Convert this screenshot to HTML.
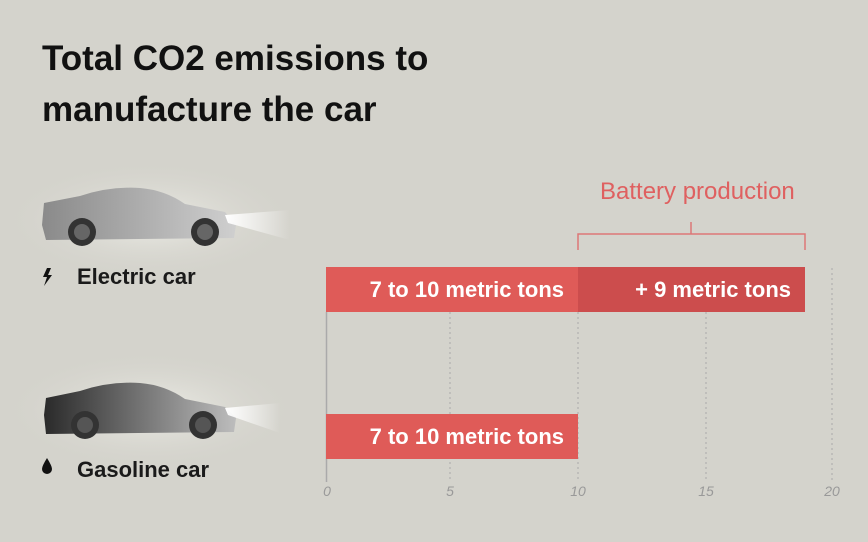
<!DOCTYPE html>
<html><head><meta charset="utf-8"><style>
body{margin:0;width:868px;height:542px;background:#d4d3cc;overflow:hidden;font-family:"Liberation Sans","DejaVu Sans",sans-serif;position:relative}
.t{position:absolute;left:42px;top:33px;font-size:35px;font-weight:bold;color:#111;line-height:51px;letter-spacing:0px}
.l{position:absolute;font-size:22px;font-weight:bold;color:#1a1a1a}
.bar{position:absolute;height:45px;color:#fff;font-size:22px;font-weight:bold;line-height:45px;text-align:right;box-sizing:border-box;padding-right:14px}
.tick{position:absolute;top:483px;font-size:14px;font-style:italic;color:#999;width:30px;text-align:center}
</style></head><body>
<div class="t">Total CO2 emissions to<br>manufacture the car</div>
<svg width="868" height="542" style="position:absolute;left:0;top:0">
<defs>
<radialGradient id="glow" cx="0.5" cy="0.5" r="0.5"><stop offset="0" stop-color="#eeeee8"/><stop offset="1" stop-color="#d4d3cc" stop-opacity="0"/></radialGradient>
<linearGradient id="e" x1="0" x2="1"><stop offset="0" stop-color="#8a8a8a"/><stop offset="1" stop-color="#cfcfcf"/></linearGradient>
<linearGradient id="g" x1="0" x2="1"><stop offset="0" stop-color="#2a2a2a"/><stop offset="1" stop-color="#bdbdbd"/></linearGradient>
<linearGradient id="beam" x1="0" x2="1"><stop offset="0" stop-color="#fff"/><stop offset="1" stop-color="#fff" stop-opacity="0"/></linearGradient>
</defs>
<ellipse cx="150" cy="220" rx="150" ry="60" fill="url(#glow)"/>
<ellipse cx="150" cy="410" rx="150" ry="60" fill="url(#glow)"/>
<g>
<path d="M44 203 L80 196 Q110 186 140 188 Q165 190 185 204 L225 212 L236 225 L234 238 L46 240 L42 225 Z" fill="url(#e)"/>
<polygon points="225,215 290,210 290,240 228,223" fill="url(#beam)"/>
<circle cx="82" cy="232" r="14" fill="#333"/><circle cx="82" cy="232" r="8" fill="#666"/>
<circle cx="205" cy="232" r="14" fill="#333"/><circle cx="205" cy="232" r="8" fill="#666"/>
</g>
<g>
<path d="M46 398 L80 391 Q110 381 140 383 Q165 385 185 399 L225 407 L236 418 L234 432 L46 434 L44 415 Z" fill="url(#g)"/>
<polygon points="225,408 280,403 280,433 228,415" fill="url(#beam)"/>
<circle cx="85" cy="425" r="14" fill="#333"/><circle cx="85" cy="425" r="8" fill="#555"/>
<circle cx="203" cy="425" r="14" fill="#333"/><circle cx="203" cy="425" r="8" fill="#555"/>
</g>
<path d="M47 268 l-4 9 h4 l-3 9 l8 -11 h-4 l3 -7 z" fill="#111"/>
<path d="M47 458 q-5 8 -5 11 a5 5 0 0 0 10 0 q0 -3 -5 -11z" fill="#111"/>
<g stroke="#aaa" stroke-dasharray="2,3" stroke-width="1">
<line x1="450" y1="312" x2="450" y2="482"/><line x1="578" y1="312" x2="578" y2="482"/><line x1="706" y1="312" x2="706" y2="482"/><line x1="832" y1="268" x2="832" y2="482"/>
</g>
<line x1="326.5" y1="312" x2="326.5" y2="482" stroke="#aaa" stroke-width="1.5"/>
<g stroke="#d77" stroke-width="1.5" fill="none"><path d="M578 250 V234 H805 V250"/><path d="M691 234 V222"/></g>
</svg>
<div class="l" style="left:77px;top:264px">Electric car</div>
<div class="l" style="left:77px;top:457px">Gasoline car</div>
<div style="position:absolute;left:600px;top:178px;font-size:24px;color:#df6060">Battery production</div>
<div class="bar" style="left:326px;top:267px;width:252px;background:#df5b58">7 to 10 metric tons</div>
<div class="bar" style="left:578px;top:267px;width:227px;background:#cc4d4d">+ 9 metric tons</div>
<div class="bar" style="left:326px;top:414px;width:252px;background:#df5b58">7 to 10 metric tons</div>
<div class="tick" style="left:312px">0</div><div class="tick" style="left:435px">5</div><div class="tick" style="left:563px">10</div><div class="tick" style="left:691px">15</div><div class="tick" style="left:817px">20</div>
</body></html>
